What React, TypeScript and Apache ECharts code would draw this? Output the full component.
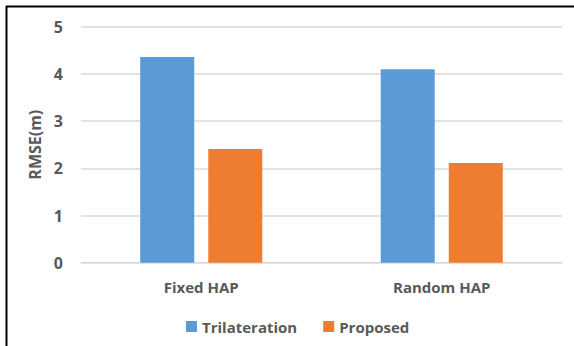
import React, { useEffect, useRef } from "react";
import * as echarts from "echarts";

const categories = ["Fixed HAP", "Random HAP"];
const trilateration = [4.36, 4.1];
const proposed = [2.41, 2.11];
const yTicks = { min: 0, max: 5, interval: 1 };

export default function App() {
  const ref = useRef<HTMLDivElement>(null);
  useEffect(() => {
    const chart = echarts.init(ref.current!, null, { renderer: "svg" });
    const font = "'Open Sans', 'Noto Sans', sans-serif";
    const txt = "#595959";
    chart.setOption({
      animation: false,
      backgroundColor: "#ffffff",
      grid: { left: 81, right: 12, top: 26.7, bottom: 83.3 },
      legend: {
        left: 181,
        top: 314,
        itemWidth: 11,
        itemHeight: 11,
        itemGap: 26,
        icon: "rect",
        textStyle: { color: txt, fontSize: 15, fontWeight: "bold", fontFamily: font },
        data: ["Trilateration", "Proposed"],
      },
      xAxis: {
        type: "category",
        data: categories,
        axisLine: { lineStyle: { color: "#d9d9d9", width: 1 } },
        axisTick: { show: false },
        axisLabel: { color: txt, fontSize: 15, fontWeight: "bold", fontFamily: font, margin: 17 },
      },
      yAxis: {
        type: "value",
        min: yTicks.min,
        max: yTicks.max,
        interval: yTicks.interval,
        name: "RMSE(m)",
        nameLocation: "middle",
        nameGap: 35,
        nameTextStyle: { color: txt, fontSize: 16, fontWeight: "bold", fontFamily: font },
        axisLine: { show: false },
        axisTick: { show: false },
        splitLine: { lineStyle: { color: "#d9d9d9", width: 1.5 } },
        axisLabel: { color: txt, fontSize: 16, fontWeight: "bold", fontFamily: font, margin: 18 },
      },
      series: [
        {
          name: "Trilateration",
          type: "bar",
          data: trilateration,
          barWidth: 54,
          barGap: "26%",
          itemStyle: { color: "#5b9bd5" },
        },
        {
          name: "Proposed",
          type: "bar",
          data: proposed,
          barWidth: 54,
          itemStyle: { color: "#ed7d31" },
        },
      ],
      graphic: [
        { type: "line", shape: { x1: 6.5, y1: 6, x2: 6.5, y2: 346 }, style: { stroke: "#000", lineWidth: 2 } },
        { type: "line", shape: { x1: 6, y1: 6.5, x2: 574, y2: 6.5 }, style: { stroke: "#000", lineWidth: 2 } },
      ],
    });
    return () => chart.dispose();
  }, []);
  return (
    <div
      ref={ref}
      style={{ position: "fixed", left: 0, top: 0, width: 574, height: 346 }}
    />
  );
}
